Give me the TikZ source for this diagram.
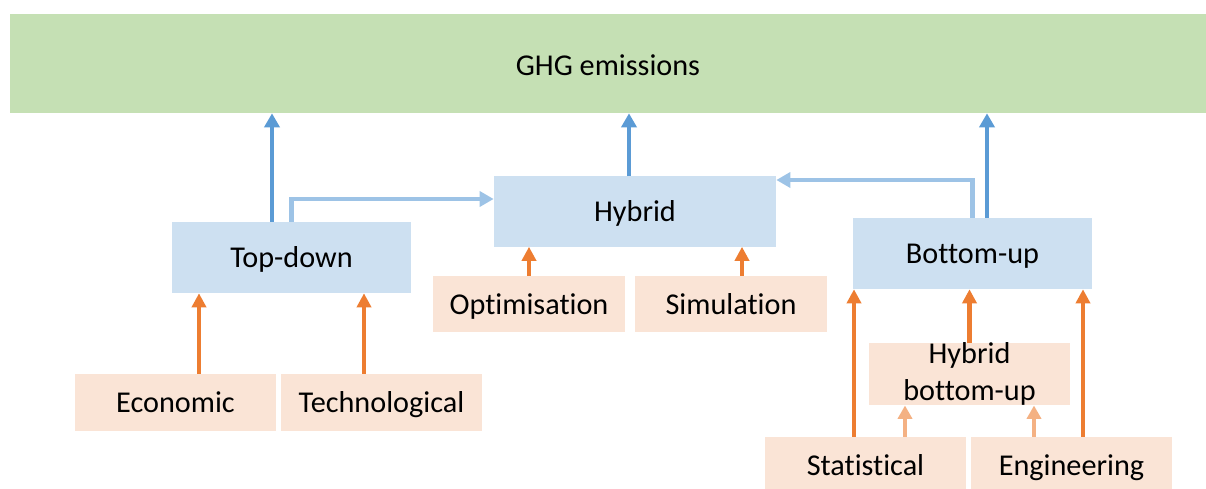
\documentclass[tikz,border=0pt]{standalone}
\usepackage{fontspec}
\setmainfont{Carlito}[Ligatures=NoCommon]
\usetikzlibrary{positioning,arrows.meta,calc}
\definecolor{ghggreen}{HTML}{C5E0B4}
\definecolor{modelblue}{HTML}{CDE0F1}
\definecolor{methodpeach}{HTML}{FAE4D6}
\definecolor{flowblue}{HTML}{5B9BD5}
\definecolor{linkblue}{HTML}{9DC3E6}
\definecolor{feedorange}{HTML}{ED7D31}
\definecolor{paleorange}{HTML}{F4B183}
\tikzset{
    one_line/.style={text height=16pt, text depth=1.5pt},
    ghg_box/.style={fill=ghggreen, inner sep=0pt, minimum width=29.9cm, minimum height=2.475cm,
        text height=19pt, text depth=1.5pt, font=\fontsize{21.5}{26}\selectfont},
    model_box/.style={fill=modelblue, inner sep=0pt, minimum width=5.975cm, minimum height=1.775cm,
        one_line, font=\fontsize{21.5}{26}\selectfont},
    method_box/.style={fill=methodpeach, inner sep=0pt, minimum width=5.025cm, minimum height=1.425cm,
        align=center, font=\fontsize{21.5}{26}\selectfont},
    % arrows: model -> emissions, model -> hybrid, method -> model
    up_flow/.style={draw=flowblue, line width=3.5pt, -{Triangle[width=10.7pt,length=10pt]}, flowblue},
    side_link/.style={draw=linkblue, line width=3.5pt, -{Triangle[width=10.7pt,length=10pt]}, linkblue},
    feed/.style={draw=feedorange, line width=3.2pt, -{Triangle[width=10pt,length=10pt]}, feedorange},
    feed_pale/.style={draw=paleorange, line width=3pt, -{Triangle[width=10pt,length=9.5pt]}, paleorange},
}
\begin{document}
\begin{tikzpicture}[x=0.025cm, y=-0.025cm]
    \useasboundingbox (0,0) rectangle (1206,488);

    % Top: what is estimated
    \node[ghg_box] (ghg) at (608,63.5) {GHG emissions};

    % Row 1: model families
    \node[model_box] (topdown) at (291.5,257.5) {Top-down};
    \node[model_box, minimum width=7.05cm, minimum height=1.75cm] (hybrid) at (635,211.5) {Hybrid};
    \node[model_box] (bottomup) at (972.5,253.5) {Bottom-up};

    % Row 2: methods
    \node[method_box, one_line, minimum width=4.8cm, minimum height=1.4cm] (optim) at (529,304) {Optimisation};
    \node[method_box, one_line, minimum width=4.8cm, minimum height=1.4cm] (simul) at (731,304) {Simulation};
    \node[method_box] (hbu) at (969.5,374) {Hybrid\\bottom-up};
    \node[method_box, one_line] (econ) at (175.5,402.5) {Economic};
    \node[method_box, one_line] (techno) at (381.5,402.5) {Technological};
    \node[method_box, one_line] (stat) at (865.5,465.5) {Statistical};
    \node[method_box, one_line] (eng) at (1071.5,465.5) {Engineering};

    % arrow bases
    \coordinate (td_up) at ($(topdown.north)+(-19.5,0)$);
    \coordinate (hy_up) at ($(hybrid.north)+(-6,0)$);
    \coordinate (bu_up) at ($(bottomup.north)+(14.5,0)$);
    \coordinate (econ_up) at ($(econ.north)+(23.5,0)$);
    \coordinate (techno_up) at ($(techno.north)+(-17.5,0)$);
    \coordinate (simul_up) at ($(simul.north)+(11,0)$);
    \coordinate (stat_up) at ($(stat.north)+(-11.5,0)$);
    \coordinate (stat_hbu) at ($(stat.north)+(39.5,0)$);
    \coordinate (eng_hbu) at ($(eng.north)+(-37.5,0)$);
    \coordinate (eng_up) at ($(eng.north)+(11.5,0)$);

    % Models to emissions
    \draw[up_flow] (td_up) -- (td_up |- ghg.south);
    \draw[up_flow] (hy_up) -- (hy_up |- ghg.south);
    \draw[up_flow] (bu_up) -- (bu_up |- ghg.south);

    % Top-down and bottom-up into hybrid
    \draw[side_link] (topdown.north) |- ($(hybrid.west)+(0,-12.5)$);
    \draw[side_link] (bottomup.north) |- ($(hybrid.east)+(0,-31.5)$);

    % Methods into models
    \draw[feed] (econ_up) -- (econ_up |- topdown.south);
    \draw[feed] (techno_up) -- (techno_up |- topdown.south);
    \draw[feed] (optim.north) -- (optim.north |- hybrid.south);
    \draw[feed] (simul_up) -- (simul_up |- hybrid.south);
    \draw[feed] (stat_up) -- (stat_up |- bottomup.south);
    \draw[feed] (hbu.north) -- (hbu.north |- bottomup.south);
    \draw[feed] (eng_up) -- (eng_up |- bottomup.south);
    \draw[feed_pale] (stat_hbu) -- (stat_hbu |- hbu.south);
    \draw[feed_pale] (eng_hbu) -- (eng_hbu |- hbu.south);
\end{tikzpicture}
\end{document}
